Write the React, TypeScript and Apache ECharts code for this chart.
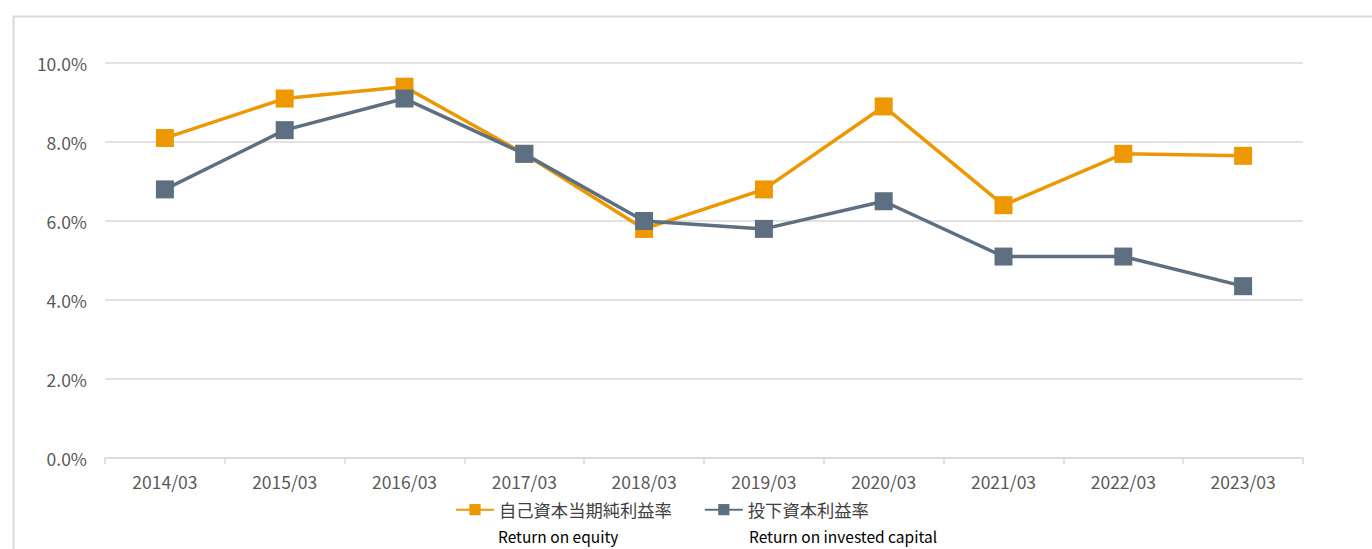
import React, { useEffect, useRef } from "react";
import * as echarts from "echarts";

const categories = ["2014/03", "2015/03", "2016/03", "2017/03", "2018/03", "2019/03", "2020/03", "2021/03", "2022/03", "2023/03"];
const roe = [8.1, 9.1, 9.4, 7.7, 5.8, 6.8, 8.9, 6.4, 7.7, 7.65];
const roic = [6.8, 8.3, 9.1, 7.7, 6.0, 5.8, 6.5, 5.1, 5.1, 4.35];
const seriesNames = ["自己資本当期純利益率", "投下資本利益率"];
const englishNames = ["Return on equity", "Return on invested capital"];

const FONT = "'Noto Sans CJK JP', 'Noto Sans', sans-serif";

export default function App() {
  const ref = useRef<HTMLDivElement>(null);
  useEffect(() => {
    if (!ref.current) return;
    const chart = echarts.init(ref.current, undefined, { renderer: "svg" });
    chart.setOption({
      animation: false,
      textStyle: { fontFamily: FONT },
      grid: { left: 105, right: 69, top: 63, bottom: 91, containLabel: false },
      xAxis: {
        type: "category",
        data: categories,
        boundaryGap: true,
        axisLine: { show: true, lineStyle: { color: "#d9d9d9", width: 1.5 } },
        axisTick: { show: true, length: 6, lineStyle: { color: "#d9d9d9", width: 1.5 } },
        axisLabel: { color: "#595959", fontSize: 17.5, margin: 15, fontFamily: FONT },
      },
      yAxis: {
        type: "value",
        min: 0,
        max: 10,
        interval: 2,
        axisLine: { show: false },
        axisTick: { show: false },
        splitLine: { lineStyle: { color: "#d9d9d9", width: 1.5 } },
        axisLabel: {
          color: "#595959",
          fontSize: 17.5,
          margin: 18,
          fontFamily: FONT,
          formatter: (v: number) => v.toFixed(1) + "%",
        },
      },
      legend: {
        data: seriesNames,
        left: 450,
        top: 496,
        itemWidth: 38,
        itemHeight: 14,
        itemGap: 32,
        textStyle: { color: "#404040", fontSize: 17.3, fontFamily: FONT },
      },
      graphic: [
        {
          type: "rect",
          left: 11,
          top: 14,
          shape: { width: 1400, height: 600 },
          style: { fill: "none", stroke: "#d9d9d9", lineWidth: 2 },
          silent: true,
          z: -10,
        },
        {
          type: "text",
          x: 498,
          y: 536,
          style: { text: englishNames[0], fill: "#000000", font: `15.5px ${FONT}`, verticalAlign: "middle" },
        },
        {
          type: "text",
          x: 749,
          y: 536,
          style: { text: englishNames[1], fill: "#000000", font: `15.5px ${FONT}`, verticalAlign: "middle" },
        },
      ],
      series: [
        {
          name: seriesNames[0],
          type: "line",
          data: roe,
          symbol: "rect",
          symbolSize: 18,
          lineStyle: { color: "#ED9800", width: 3.5 },
          itemStyle: { color: "#ED9800" },
          z: 2,
        },
        {
          name: seriesNames[1],
          type: "line",
          data: roic,
          symbol: "rect",
          symbolSize: 18,
          lineStyle: { color: "#5D6F80", width: 3.5 },
          itemStyle: { color: "#5D6F80" },
          z: 3,
        },
      ],
    });
    return () => chart.dispose();
  }, []);
  return (
    <div
      ref={ref}
      style={{ position: "fixed", left: 0, top: 0, width: 1372, height: 549, background: "#fff" }}
    />
  );
}
